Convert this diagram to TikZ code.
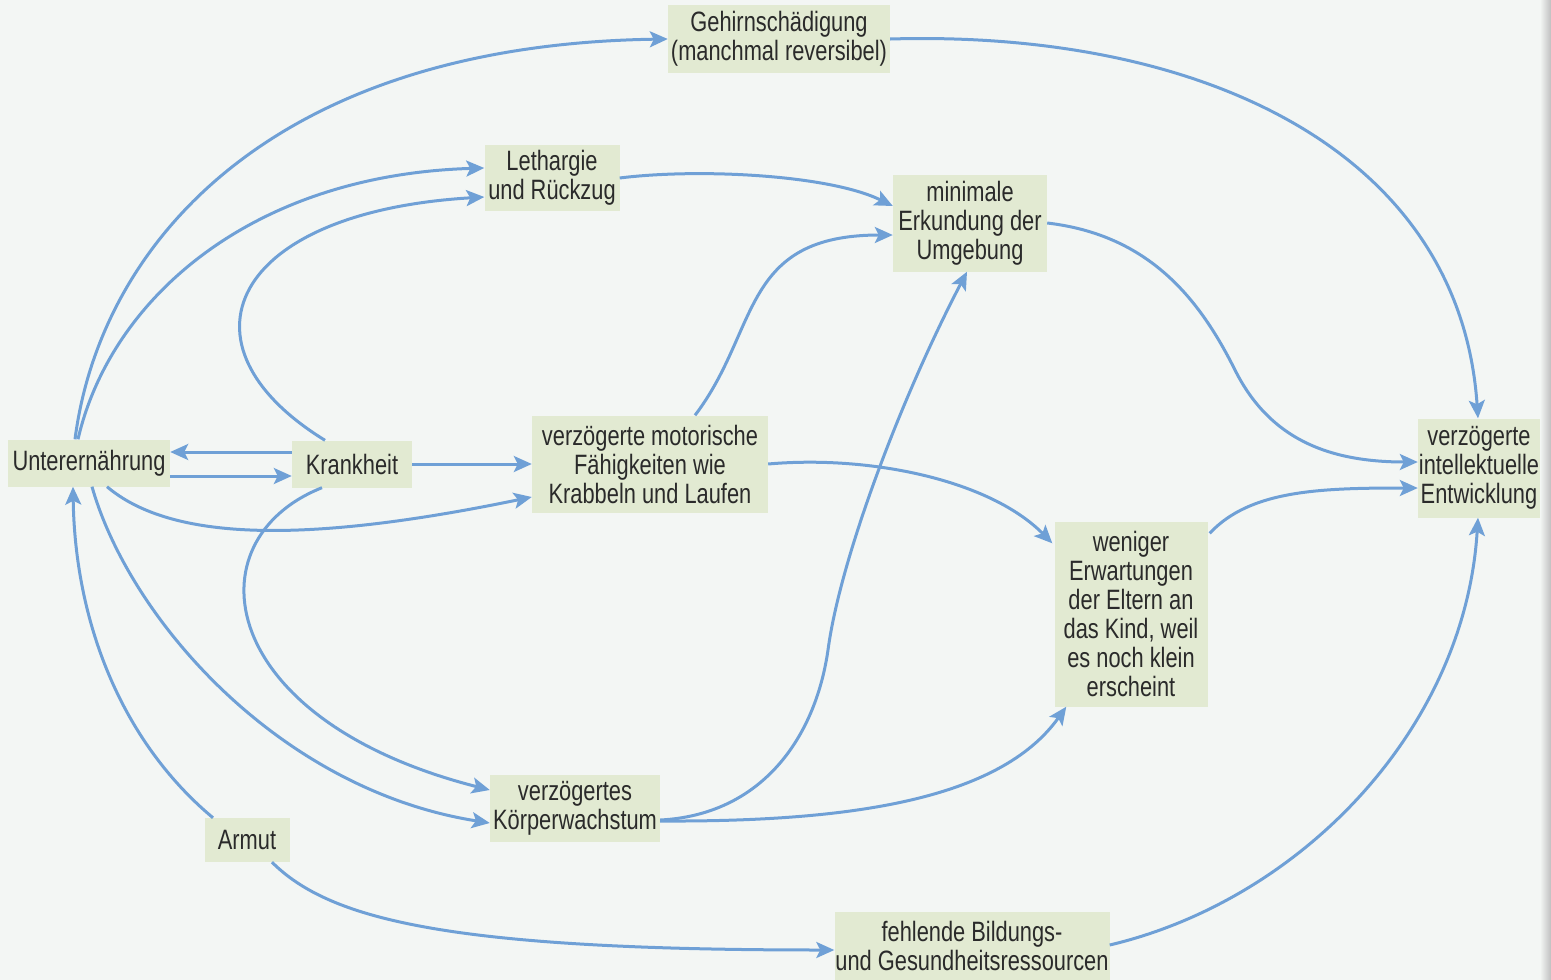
\documentclass[tikz,border=0pt]{standalone}
\usepackage{fontspec}
\setmainfont[FakeStretch=0.78]{Liberation Sans}
\usetikzlibrary{arrows.meta,calc}
\definecolor{bg}{HTML}{F3F6F4}
\definecolor{boxg}{HTML}{E2EAD2}
\definecolor{arr}{HTML}{6FA0D6}
\definecolor{txt}{HTML}{2A2A2A}
\begin{document}
\begin{tikzpicture}[x=1pt,y=-1pt,
  box/.style={fill=boxg,text=txt,inner sep=0pt,align=center,font=\fontsize{28}{29}\selectfont},
  conn/.style={draw=arr,line width=3pt,-{Stealth[length=18pt,width=16pt,inset=4pt]}}]
\fill[bg] (0,0) rectangle (1551,980);
\useasboundingbox (0,0) rectangle (1551,980);
\shade[left color=bg,right color=black!25] (1540,0) rectangle (1551,980);

\node[box,minimum width=162pt,minimum height=47pt] (U) at (89,463) {Unterernährung};
\node[box,minimum width=120pt,minimum height=47pt] (K) at (352,464) {Krankheit};
\node[box,minimum width=222pt,minimum height=68pt] (G) at (779,39) {Gehirnschädigung\\(manchmal reversibel)};
\node[box,minimum width=135pt,minimum height=66pt] (L) at (552,178) {Lethargie\\und Rückzug};
\node[box,minimum width=154pt,minimum height=97pt] (E) at (970,223) {minimale\\Erkundung der\\Umgebung};
\node[box,minimum width=236pt,minimum height=97pt] (M) at (650,464) {verzögerte motorische\\Fähigkeiten wie\\Krabbeln und Laufen};
\node[box,minimum width=153pt,minimum height=185pt] (W) at (1131,614) {weniger\\Erwartungen\\der Eltern an\\das Kind, weil\\es noch klein\\erscheint};
\node[box,minimum width=122pt,minimum height=99pt] (I) at (1479,468) {verzögerte\\intellektuelle\\Entwicklung};
\node[box,minimum width=170pt,minimum height=67pt] (KW) at (575,808) {verzögertes\\Körperwachstum};
\node[box,minimum width=85pt,minimum height=44pt] (A) at (247,840) {Armut};
\node[box,minimum width=275pt,minimum height=68pt] (F) at (972,946) {fehlende Bildungs-\\und Gesundheitsressourcen};

% connectors
\draw[conn] ($(U.north)+(-14,0)$) .. controls (100,245) and (270,45) .. (G.west);
\draw[conn] ($(U.north)+(-11,0)$) .. controls (110,300) and (250,175) .. ($(L.west)+(0,-10)$);
\draw[conn] ($(K.north)+(-27,0)$) .. controls (170,345) and (230,212) .. ($(L.west)+(0,19)$);
\draw[conn] ($(K.west)+(0,-12)$) -- ($(U.east)+(0,-11)$);
\draw[conn] ($(U.east)+(0,13)$) -- ($(K.west)+(0,12)$);
\draw[conn] (K.east) -- (K.east -| M.west);
\draw[conn] ($(U.south)+(18,0)$) .. controls (170,540) and (300,545) .. ($(M.west)+(0,33)$);
\draw[conn] ($(K.south)+(-30,0)$) .. controls (190,540) and (215,720) .. ($(KW.west)+(0,-18)$);
\draw[conn] ($(U.south)+(3,0)$) .. controls (130,620) and (280,790) .. ($(KW.west)+(0,15)$);
\draw[conn] ($(A.north)+(-34,0)$) .. controls (120,740) and (75,620) .. ($(U.south)+(-16,0)$);
\draw[conn] ($(A.south)+(25,0)$) .. controls (330,920) and (450,950) .. ($(F.west)+(0,4)$);
\draw[conn] (L.east) .. controls (700,168) and (830,175) .. ($(E.west)+(0,-17)$);
\draw[conn] ($(M.north)+(45,0)$) .. controls (760,330) and (740,235) .. ($(E.west)+(0,12)$);
\draw[conn] ($(KW.east)+(0,12)$) .. controls (760,815) and (815,740) .. (828,650) .. controls (840,560) and (900,400) .. ($(E.south)+(-3,0)$);
\draw[conn] ($(KW.east)+(0,13)$) .. controls (850,822) and (1000,800) .. ($(W.south west)+(12,0)$);
\draw[conn] (M.east) .. controls (870,455) and (990,480) .. ($(W.north west)+(-2,22)$);
\draw[conn] (G.east) .. controls (1200,30) and (1460,150) .. ($(I.north)+(-1,0)$);
\draw[conn] (E.east) .. controls (1150,235) and (1200,300) .. (1235,370) .. controls (1270,440) and (1330,462) .. ($(I.west)+(0,-6)$);
\draw[conn] ($(W.north east)+(2,12)$) .. controls (1250,490) and (1320,488) .. ($(I.west)+(0,20)$);
\draw[conn] ($(F.east)+(0,-1)$) .. controls (1300,900) and (1465,730) .. ($(I.south)+(-1,0)$);
\end{tikzpicture}
\end{document}
